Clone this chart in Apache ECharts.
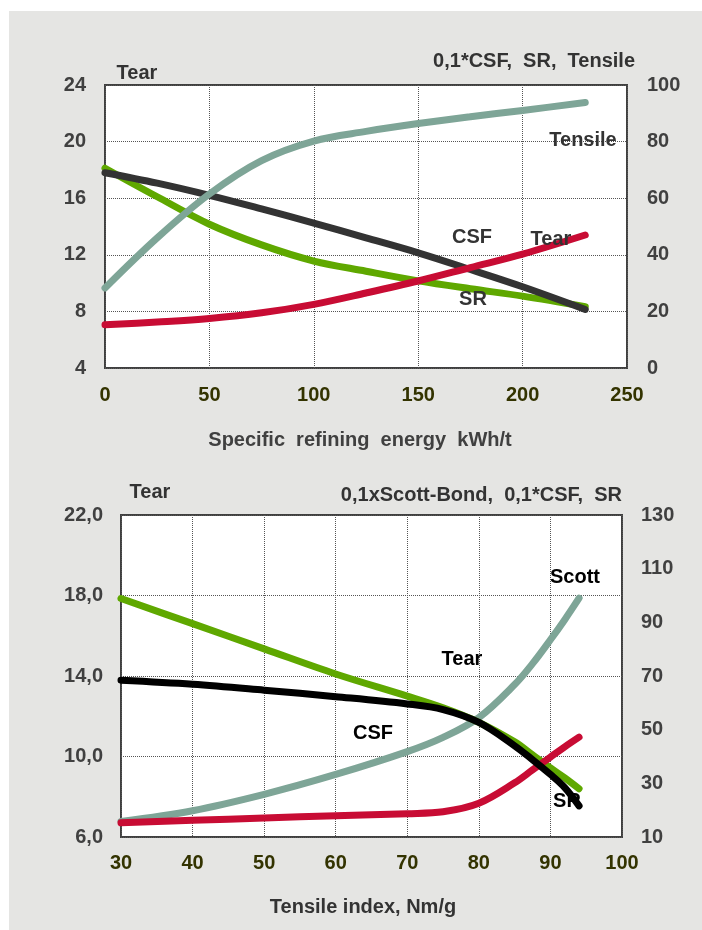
<!DOCTYPE html>
<html><head><meta charset="utf-8">
<script src="https://cdn.jsdelivr.net/npm/echarts/dist/echarts.min.js"></script>
<style>
html,body{margin:0;padding:0;background:#fff;}
#bg{position:absolute;left:9px;top:11px;width:693px;height:919px;background:#e5e5e3;}
#chart{position:absolute;left:0;top:0;width:702px;height:930px;}
</style></head><body>
<div id="bg"></div><div id="chart"></div>
<script>
// ---- Top chart: vs specific refining energy (kWh/t)
const energy     = [0, 25, 50, 75, 100, 125, 150, 175, 200, 230];
const tearTop    = [7.05, 7.25, 7.5, 7.9, 8.5, 9.3, 10.15, 11.1, 12.05, 13.4];       // left axis
const srTop      = [70.6, 60.5, 50.8, 43.5, 37.8, 34.2, 30.8, 28.0, 25.4, 21.7];     // right axis
const csfTop     = [69.0, 65.3, 61.0, 56.2, 51.2, 46.0, 40.7, 34.8, 28.7, 20.7];     // right axis
const tensileTop = [28.3, 46.0, 61.5, 73.3, 80.2, 83.6, 86.4, 88.8, 91.0, 93.8];     // right axis

// ---- Bottom chart: vs tensile index (Nm/g)
const tensileIdx = [30, 40, 50, 60, 70, 75, 80, 85, 87.5, 90, 92, 94];
const tearBot    = [17.85, 16.6, 15.35, 14.1, 13.0, 12.42, 11.7, 10.73, 10.08, 9.43, 8.94, 8.4]; // left axis
const csfBot     = [68.4, 66.9, 64.7, 62.3, 59.6, 57.5, 52.7, 44.0, 38.8, 33.3, 28.4, 21.6];    // right axis
const scottBot   = [15.8, 19.8, 25.9, 33.3, 41.8, 47.1, 54.5, 66.8, 74.6, 83.5, 91.0, 99.0];   // right axis
const srBot      = [15.3, 16.2, 17.1, 17.9, 18.7, 19.4, 22.6, 30.2, 35.0, 39.8, 43.6, 47.2];   // right axis

const FONT = '"Liberation Sans", Arial, sans-serif';
const pairs = (xs, ys) => xs.map((x, i) => [x, ys[i]]);

function line(data, color, xi, yi, z) {
  return {
    type: 'line', data, xAxisIndex: xi, yAxisIndex: yi, smooth: 0.35,
    symbol: 'none', z: z, color: color,
    lineStyle: { color, width: 7, cap: 'round', join: 'round' },
    emphasis: { disabled: true }, silent: true
  };
}

const split = { show: true, lineStyle: { color: '#555', type: 'dotted', width: 1 } };
const xLab = { color: '#333300', fontFamily: FONT, fontWeight: 'bold', fontSize: 20 };
const yLab = { color: '#404040', fontFamily: FONT, fontWeight: 'bold', fontSize: 20 };

function txt(text, x, y, color, align, z) {
  return {
    type: 'text', x, y, z: z,
    style: {
      text, fill: color, font: 'bold 20px ' + FONT,
      textAlign: align || 'center', align: align || 'center',
      textVerticalAlign: 'middle', verticalAlign: 'middle'
    }
  };
}

const option = {
  backgroundColor: 'transparent',
  animation: false,
  grid: [
    { left: 105, top: 85, width: 522, height: 283, show: true, backgroundColor: '#fff',
      borderColor: '#404040', borderWidth: 2, containLabel: false, outerBoundsMode: 'none' },
    { left: 121, top: 515, width: 501, height: 322, show: true, backgroundColor: '#fff',
      borderColor: '#404040', borderWidth: 2, containLabel: false, outerBoundsMode: 'none' }
  ],
  xAxis: [
    { type: 'value', gridIndex: 0, min: 0, max: 250, interval: 50,
      axisLine: { show: false }, axisTick: { show: false }, splitLine: split,
      axisLabel: Object.assign({ margin: 17 }, xLab) },
    { type: 'value', gridIndex: 1, min: 30, max: 100, interval: 10,
      axisLine: { show: false }, axisTick: { show: false }, splitLine: split,
      axisLabel: Object.assign({ margin: 16 }, xLab) }
  ],
  yAxis: [
    { type: 'value', gridIndex: 0, position: 'left', min: 4, max: 24, interval: 4,
      axisLine: { show: false }, axisTick: { show: false }, splitLine: split,
      axisLabel: Object.assign({ margin: 19 }, yLab) },
    { type: 'value', gridIndex: 0, position: 'right', min: 0, max: 100, interval: 20,
      axisLine: { show: false }, axisTick: { show: false }, splitLine: { show: false },
      axisLabel: Object.assign({ margin: 20 }, yLab) },
    { type: 'value', gridIndex: 1, position: 'left', min: 6, max: 22, interval: 4,
      axisLine: { show: false }, axisTick: { show: false }, splitLine: split,
      axisLabel: Object.assign({ margin: 18, formatter: v => v.toFixed(1).replace('.', ',') }, yLab) },
    { type: 'value', gridIndex: 1, position: 'right', min: 10, max: 130, interval: 20,
      axisLine: { show: false }, axisTick: { show: false }, splitLine: { show: false },
      axisLabel: Object.assign({ margin: 19 }, yLab) }
  ],
  series: [
    line(pairs(energy, srTop), '#5fa800', 0, 1, 2),
    line(pairs(energy, csfTop), '#333333', 0, 1, 3),
    line(pairs(energy, tearTop), '#c80c34', 0, 0, 4),
    line(pairs(energy, tensileTop), '#7ea597', 0, 1, 5),

    line(pairs(tensileIdx, scottBot), '#7ea597', 1, 3, 2),
    line(pairs(tensileIdx, tearBot), '#5fa800', 1, 2, 3),
    line(pairs(tensileIdx, srBot), '#c80c34', 1, 3, 4),
    line(pairs(tensileIdx, csfBot), '#000000', 1, 3, 5)
  ],
  graphic: [
    txt('Tear', 137, 73, '#333', 'center', 10),
    txt('0,1*CSF,  SR,  Tensile', 635, 61, '#333', 'right', 10),
    txt('Tensile', 583, 140, '#333', 'center', 10),
    txt('CSF', 472, 237, '#333', 'center', 10),
    txt('Tear', 551, 239, '#333', 'center', 10),
    txt('SR', 473, 299, '#333', 'center', 10),
    txt('Specific  refining  energy  kWh/t', 360, 440, '#404040', 'center', 10),

    txt('Tear', 150, 492, '#333', 'center', 10),
    txt('0,1xScott-Bond,  0,1*CSF,  SR', 622, 495, '#333', 'right', 10),
    txt('Scott', 575, 577, '#000', 'center', 10),
    txt('Tear', 462, 659, '#000', 'center', 10),
    txt('CSF', 373, 733, '#000', 'center', 10),
    txt('SR', 567, 801, '#000', 'center', 1),
    txt('Tensile index, Nm/g', 363, 907, '#333', 'center', 10)
  ]
};

const chart = echarts.init(document.getElementById('chart'), null, { renderer: 'canvas' });
chart.setOption(option);
</script>
</body></html>
